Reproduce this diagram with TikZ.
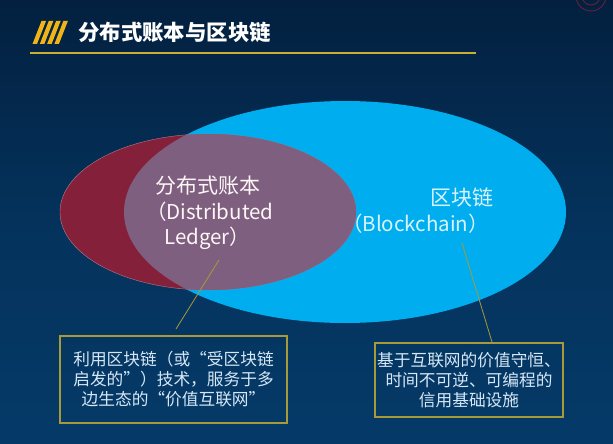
\documentclass[tikz,border=0pt]{standalone}
\usepackage{fontspec}
\setmainfont{Noto Sans CJK SC}
\usetikzlibrary{positioning}
\definecolor{bgtop}{HTML}{03203F}
\definecolor{bgbottom}{HTML}{053A68}
\definecolor{chainblue}{HTML}{00AEEF}
\definecolor{ledgerred}{HTML}{85203A}
\definecolor{overlap}{HTML}{7F5F80}
\definecolor{rulegold}{HTML}{C9B030}
\definecolor{stripe}{HTML}{F0B418}
\definecolor{boxline}{HTML}{A89A38}
\definecolor{boxtext}{HTML}{D6E8F7}

\begin{document}
\begin{tikzpicture}[
        x=1pt, y=-1pt,
        bigtext/.style = {
            text=#1,
            font=\fontsize{20.5}{24}\selectfont,
            anchor=west,
            inner sep = 0pt
        },
        bigtext/.default = white,
        cjktext/.style = {
            font=\fontsize{21}{24}\selectfont
        },
        notebox/.style = {
            draw=boxline,
            line width=1.1pt,
            inner sep = 0pt,
            text=boxtext,
            font=\fontsize{16.7}{20}\selectfont,
            align=center
        },
        leader/.style = {
            draw=boxline,
            line width=0.8pt
        }
        ]
%
        \useasboundingbox (0,0) rectangle (613,444);
        \shade[top color=bgtop, bottom color=bgbottom, middle color=bgbottom!70!bgtop] (0,0) rectangle (613,444);
%
        \foreach \x in {0,1,2,3} {
            \fill[stripe] (32.5+7.3*\x,44) -- (37+7.3*\x,44) -- (46+7.3*\x,21) -- (41.5+7.3*\x,21) -- cycle;
        }
        \node[anchor=west, inner sep=0pt, text=white, font=\fontsize{21.4}{24}\selectfont\bfseries] (title) at (78,32) {分布式账本与区块链};
        \draw[rulegold, line width=2pt] (30,53.5) -- (476,53.5);
%
        \draw[ledgerred!70!bgtop, line width=1pt] (591,-4) circle (15);
        \draw[ledgerred!70!bgtop, line width=1pt] (591,-4) circle (9);
%
        \fill[chainblue] (345,212) ellipse [x radius=221, y radius=111];
        \draw[fill=ledgerred, draw=ledgerred!60!white, line width=0.4pt] (208,212) ellipse [x radius=148, y radius=78];
        \begin{scope}
            \clip (345,212) ellipse [x radius=221, y radius=111];
            \fill[overlap] (208,212) ellipse [x radius=148, y radius=78];
        \end{scope}
%
        \node[bigtext=white!85!pink, cjktext] (ledger1) at (155,186) {分布式账本};
        \node[bigtext=white!85!pink] (ledger2) at (146,212) {（Distributed};
        \node[bigtext=white!85!pink] (ledger3) at (164,238) {Ledger）};
        \node[bigtext=white!85!chainblue, cjktext] (chain1) at (430,198) {区块链};
        \node[bigtext=white!85!chainblue] (chain2) at (342,224) {（Blockchain）};
%
        \node[notebox, minimum width=227pt, minimum height=87pt] (note1) at (173.5,379.5)
            {利用区块链（或“受区块链\\启发的”）技术，服务于多\\边生态的“价值互联网”};
        \node[notebox, minimum width=188pt, minimum height=74pt] (note2) at (469,380)
            {基于互联网的价值守恒、\\时间不可逆、可编程的\\信用基础设施};
%
        \coordinate (ledgertip) at (219,260);
        \coordinate (notetip) at (176,329);
        \coordinate (chaintip) at (462,243);
        \coordinate (chainfoot) at (492,342);
        \draw[leader] (ledgertip) -- (notetip);
        \draw[leader] (chaintip) -- (chainfoot);
%
\end{tikzpicture}
\end{document}
